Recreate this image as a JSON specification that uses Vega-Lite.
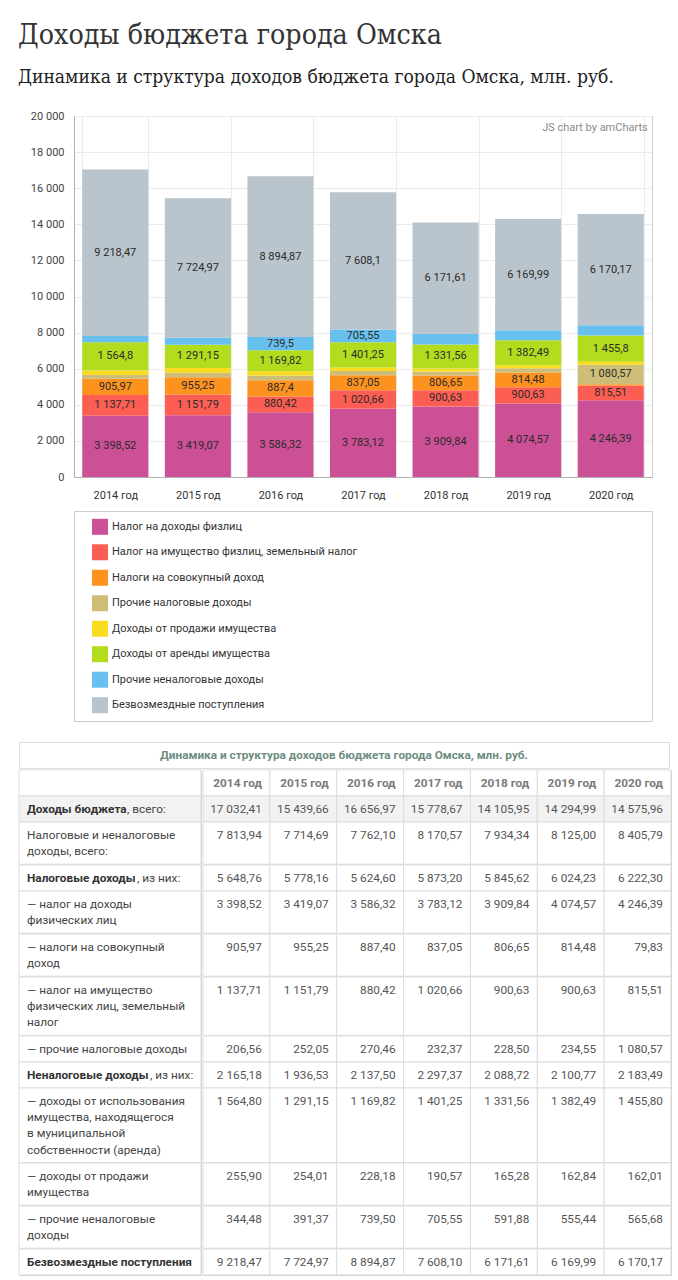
{
  "$schema": "https://vega.github.io/schema/vega-lite/v6.json",
  "padding": {"left": 18, "top": 21, "right": 10, "bottom": 2},
  "background": "#ffffff",
  "title": {
    "text": "Доходы бюджета города Омска",
    "subtitle": "Динамика и структура доходов бюджета города Омска, млн. руб.",
    "anchor": "start",
    "frame": "bounds",
    "font": "DejaVu Serif Condensed, DejaVu Serif, serif",
    "fontSize": 28.3,
    "fontWeight": "normal",
    "color": "#333333",
    "subtitleFont": "DejaVu Serif Condensed, DejaVu Serif, serif",
    "subtitleFontSize": 19.1,
    "subtitleColor": "#222222",
    "subtitlePadding": 18,
    "offset": 21
  },
  "datasets": {
    "cats": [
      {"k": 1, "cat": "Налог на доходы физлиц"},
      {"k": 2, "cat": "Налог на имущество физлиц, земельный налог"},
      {"k": 3, "cat": "Налоги на совокупный доход"},
      {"k": 4, "cat": "Прочие налоговые доходы"},
      {"k": 5, "cat": "Доходы от продажи имущества"},
      {"k": 6, "cat": "Доходы от аренды имущества"},
      {"k": 7, "cat": "Прочие неналоговые доходы"},
      {"k": 8, "cat": "Безвозмездные поступления"}
    ],
    "bars": [
      {"god": "2014 год", "k": 1, "v": 3398.52}, {"god": "2014 год", "k": 2, "v": 1137.71}, {"god": "2014 год", "k": 3, "v": 905.97}, {"god": "2014 год", "k": 4, "v": 206.56},
      {"god": "2014 год", "k": 5, "v": 255.90}, {"god": "2014 год", "k": 6, "v": 1564.80}, {"god": "2014 год", "k": 7, "v": 344.48}, {"god": "2014 год", "k": 8, "v": 9218.47},
      {"god": "2015 год", "k": 1, "v": 3419.07}, {"god": "2015 год", "k": 2, "v": 1151.79}, {"god": "2015 год", "k": 3, "v": 955.25}, {"god": "2015 год", "k": 4, "v": 252.05},
      {"god": "2015 год", "k": 5, "v": 254.01}, {"god": "2015 год", "k": 6, "v": 1291.15}, {"god": "2015 год", "k": 7, "v": 391.37}, {"god": "2015 год", "k": 8, "v": 7724.97},
      {"god": "2016 год", "k": 1, "v": 3586.32}, {"god": "2016 год", "k": 2, "v": 880.42}, {"god": "2016 год", "k": 3, "v": 887.40}, {"god": "2016 год", "k": 4, "v": 270.46},
      {"god": "2016 год", "k": 5, "v": 228.18}, {"god": "2016 год", "k": 6, "v": 1169.82}, {"god": "2016 год", "k": 7, "v": 739.50}, {"god": "2016 год", "k": 8, "v": 8894.87},
      {"god": "2017 год", "k": 1, "v": 3783.12}, {"god": "2017 год", "k": 2, "v": 1020.66}, {"god": "2017 год", "k": 3, "v": 837.05}, {"god": "2017 год", "k": 4, "v": 232.37},
      {"god": "2017 год", "k": 5, "v": 190.57}, {"god": "2017 год", "k": 6, "v": 1401.25}, {"god": "2017 год", "k": 7, "v": 705.55}, {"god": "2017 год", "k": 8, "v": 7608.10},
      {"god": "2018 год", "k": 1, "v": 3909.84}, {"god": "2018 год", "k": 2, "v": 900.63}, {"god": "2018 год", "k": 3, "v": 806.65}, {"god": "2018 год", "k": 4, "v": 228.50},
      {"god": "2018 год", "k": 5, "v": 165.28}, {"god": "2018 год", "k": 6, "v": 1331.56}, {"god": "2018 год", "k": 7, "v": 591.88}, {"god": "2018 год", "k": 8, "v": 6171.61},
      {"god": "2019 год", "k": 1, "v": 4074.57}, {"god": "2019 год", "k": 2, "v": 900.63}, {"god": "2019 год", "k": 3, "v": 814.48}, {"god": "2019 год", "k": 4, "v": 234.55},
      {"god": "2019 год", "k": 5, "v": 162.84}, {"god": "2019 год", "k": 6, "v": 1382.49}, {"god": "2019 год", "k": 7, "v": 555.44}, {"god": "2019 год", "k": 8, "v": 6169.99},
      {"god": "2020 год", "k": 1, "v": 4246.39}, {"god": "2020 год", "k": 2, "v": 815.51}, {"god": "2020 год", "k": 3, "v": 79.83}, {"god": "2020 год", "k": 4, "v": 1080.57},
      {"god": "2020 год", "k": 5, "v": 162.01}, {"god": "2020 год", "k": 6, "v": 1455.80}, {"god": "2020 год", "k": 7, "v": 565.68}, {"god": "2020 год", "k": 8, "v": 6170.17}
    ],
    "wm": [{"t": "JS chart by amCharts"}],
    "cap": [{"t": "Динамика и структура доходов бюджета города Омска, млн. руб."}],
    "tbl": [
      {"r": 0, "l": 1, "t": ""},
      {"r": 1, "l": 1, "b": "Доходы бюджета", "t": ", всего:", "2014 год": 17032.41, "2015 год": 15439.66, "2016 год": 16656.97, "2017 год": 15778.67, "2018 год": 14105.95, "2019 год": 14294.99, "2020 год": 14575.96},
      {"r": 2, "l": 1, "t": "Налоговые и неналоговые", "2014 год": 7813.94, "2015 год": 7714.69, "2016 год": 7762.10, "2017 год": 8170.57, "2018 год": 7934.34, "2019 год": 8125.00, "2020 год": 8405.79},
      {"r": 2, "l": 2, "t": "доходы, всего:"},
      {"r": 3, "l": 1, "b": "Налоговые доходы", "t": ", из них:", "2014 год": 5648.76, "2015 год": 5778.16, "2016 год": 5624.60, "2017 год": 5873.20, "2018 год": 5845.62, "2019 год": 6024.23, "2020 год": 6222.30},
      {"r": 4, "l": 1, "t": "— налог на доходы", "2014 год": 3398.52, "2015 год": 3419.07, "2016 год": 3586.32, "2017 год": 3783.12, "2018 год": 3909.84, "2019 год": 4074.57, "2020 год": 4246.39},
      {"r": 4, "l": 2, "t": "физических лиц"},
      {"r": 5, "l": 1, "t": "— налоги на совокупный", "2014 год": 905.97, "2015 год": 955.25, "2016 год": 887.40, "2017 год": 837.05, "2018 год": 806.65, "2019 год": 814.48, "2020 год": 79.83},
      {"r": 5, "l": 2, "t": "доход"},
      {"r": 6, "l": 1, "t": "— налог на имущество", "2014 год": 1137.71, "2015 год": 1151.79, "2016 год": 880.42, "2017 год": 1020.66, "2018 год": 900.63, "2019 год": 900.63, "2020 год": 815.51},
      {"r": 6, "l": 2, "t": "физических лиц, земельный"},
      {"r": 6, "l": 3, "t": "налог"},
      {"r": 7, "l": 1, "t": "— прочие налоговые доходы", "2014 год": 206.56, "2015 год": 252.05, "2016 год": 270.46, "2017 год": 232.37, "2018 год": 228.50, "2019 год": 234.55, "2020 год": 1080.57},
      {"r": 8, "l": 1, "b": "Неналоговые доходы", "t": ", из них:", "2014 год": 2165.18, "2015 год": 1936.53, "2016 год": 2137.50, "2017 год": 2297.37, "2018 год": 2088.72, "2019 год": 2100.77, "2020 год": 2183.49},
      {"r": 9, "l": 1, "t": "— доходы от использования", "2014 год": 1564.80, "2015 год": 1291.15, "2016 год": 1169.82, "2017 год": 1401.25, "2018 год": 1331.56, "2019 год": 1382.49, "2020 год": 1455.80},
      {"r": 9, "l": 2, "t": "имущества, находящегося"},
      {"r": 9, "l": 3, "t": "в муниципальной"},
      {"r": 9, "l": 4, "t": "собственности (аренда)"},
      {"r": 10, "l": 1, "t": "— доходы от продажи", "2014 год": 255.90, "2015 год": 254.01, "2016 год": 228.18, "2017 год": 190.57, "2018 год": 165.28, "2019 год": 162.84, "2020 год": 162.01},
      {"r": 10, "l": 2, "t": "имущества"},
      {"r": 11, "l": 1, "t": "— прочие неналоговые", "2014 год": 344.48, "2015 год": 391.37, "2016 год": 739.50, "2017 год": 705.55, "2018 год": 591.88, "2019 год": 555.44, "2020 год": 565.68},
      {"r": 11, "l": 2, "t": "доходы"},
      {"r": 12, "l": 1, "b": "Безвозмездные поступления", "2014 год": 9218.47, "2015 год": 7724.97, "2016 год": 8894.87, "2017 год": 7608.10, "2018 год": 6171.61, "2019 год": 6169.99, "2020 год": 6170.17}
    ]
  },
  "spacing": 19,
  "vconcat": [
    {
      "spacing": 0,
      "hconcat": [
        {
          "width": 1,
          "height": 1,
          "data": {"values": []},
          "view": {"stroke": null, "fill": "#ffffff"},
          "mark": {"type": "rect", "opacity": 0},
          "encoding": {}
        },
        {
          "spacing": 9,
          "vconcat": [
            {
              "width": 578,
              "height": 361,
              "layer": [
                {
                  "data": {"name": "bars"},
                  "transform": [{"lookup": "k", "from": {"data": {"name": "cats"}, "key": "k", "fields": ["cat"]}}],
                  "mark": {"type": "bar"},
                  "encoding": {
                    "x": {"field": "god", "type": "nominal", "scale": {"paddingInner": 0.2, "paddingOuter": 0.1},
                          "axis": {"title": null, "labelAngle": 0, "grid": true, "tickBand": "extent", "ticks": false, "gridColor": "#ebebeb", "domainColor": "#b0b0b0", "labelPadding": 12, "labelFontSize": 11, "labelColor": "#333333"}},
                    "y": {"field": "v", "type": "quantitative", "stack": "zero", "scale": {"domain": [0, 20000], "nice": false},
                          "axis": {"title": null, "values": [0, 2000, 4000, 6000, 8000, 10000, 12000, 14000, 16000, 18000, 20000], "labelOverlap": false, "labelSeparation": 0, "format": ",d", "grid": true, "gridColor": "#ebebeb", "ticks": false, "domainColor": "#b0b0b0", "labelPadding": 10, "labelFontSize": 11, "labelColor": "#444444", "minExtent": 53}},
                    "color": {"field": "cat", "type": "nominal", "legend": null,
                              "scale": {"domain": ["Налог на доходы физлиц", "Налог на имущество физлиц, земельный налог", "Налоги на совокупный доход", "Прочие налоговые доходы", "Доходы от продажи имущества", "Доходы от аренды имущества", "Прочие неналоговые доходы", "Безвозмездные поступления"],
                                        "range": ["#cc5096", "#fd5e54", "#fe921f", "#cdbd78", "#f9dc22", "#b4dc1e", "#67c0ee", "#b9c4cc"]}},
                    "order": {"field": "k", "type": "quantitative", "sort": "ascending"}
                  }
                },
                {
                  "data": {"name": "bars"},
                  "transform": [
                    {"stack": "v", "groupby": ["god"], "sort": [{"field": "k", "order": "ascending"}], "as": ["v0", "v1"]},
                    {"filter": "datum.v >= 700"},
                    {"fold": ["v0", "v1"], "as": ["edge", "pos"]}
                  ],
                  "mark": {"type": "text", "fontSize": 11, "color": "#2b2b2b", "baseline": "middle"},
                  "encoding": {
                    "x": {"field": "god", "type": "nominal"},
                    "y": {"aggregate": "mean", "field": "pos", "type": "quantitative", "stack": null,
                          "axis": {"title": null, "values": [0, 2000, 4000, 6000, 8000, 10000, 12000, 14000, 16000, 18000, 20000], "labelOverlap": false, "labelSeparation": 0, "format": ",d", "grid": true, "gridColor": "#ebebeb", "ticks": false, "domainColor": "#b0b0b0", "labelPadding": 10, "labelFontSize": 11, "labelColor": "#444444", "minExtent": 53}},
                    "detail": {"field": "k", "type": "nominal"},
                    "text": {"field": "v", "type": "quantitative", "format": ",.2~f"}
                  }
                },
                {
                  "data": {"name": "wm"},
                  "mark": {"type": "text", "align": "right", "baseline": "middle", "dx": 4, "dy": 12, "fontSize": 11, "color": "#8a8a8a"},
                  "encoding": {
                    "x": {"datum": "2020 год", "bandPosition": 1},
                    "y": {"datum": 20000,
                          "axis": {"title": null, "values": [0, 2000, 4000, 6000, 8000, 10000, 12000, 14000, 16000, 18000, 20000], "labelOverlap": false, "labelSeparation": 0, "format": ",d", "grid": true, "gridColor": "#ebebeb", "ticks": false, "domainColor": "#b0b0b0", "labelPadding": 10, "labelFontSize": 11, "labelColor": "#444444", "minExtent": 53}},
                    "text": {"field": "t"}
                  }
                }
              ]
            },
            {
              "width": 578,
              "height": 210,
              "data": {"name": "cats"},
              "layer": [
                {
                  "mark": {"type": "square", "size": 256, "opacity": 1, "filled": true, "xOffset": 26},
                  "encoding": {
                    "x": {"datum": 0, "type": "quantitative", "scale": {"domain": [0, 1]}, "axis": null},
                    "y": {"field": "cat", "type": "nominal", "sort": null, "scale": {"type": "point", "padding": 0.62},
                          "axis": {"labels": false, "ticks": false, "domain": false, "grid": false, "title": null, "minExtent": 53}},
                    "color": {"field": "cat", "type": "nominal", "legend": null}
                  }
                },
                {
                  "mark": {"type": "text", "align": "left", "baseline": "middle", "dx": 38, "fontSize": 11, "color": "#333333"},
                  "encoding": {
                    "x": {"datum": 0, "type": "quantitative"},
                    "y": {"field": "cat", "type": "nominal", "sort": null},
                    "text": {"field": "cat"}
                  }
                }
              ]
            }
          ]
        }
      ]
    },
    {
      "spacing": 0,
      "vconcat": [
        {
          "width": 650,
          "height": 26,
          "data": {"name": "cap"},
          "view": {"stroke": "#dddddd"},
          "mark": {"type": "text", "fontWeight": "bold", "fontSize": 11.8, "color": "#6e8c80"},
          "encoding": {"text": {"field": "t"}}
        },
        {
          "spacing": 0,
          "hconcat": [
            {
              "data": {"name": "tbl"},
              "facet": {"row": {"field": "r", "type": "ordinal", "header": null}},
              "spacing": 0,
              "bounds": "flush",
              "resolve": {"scale": {"y": "independent"}},
              "spec": {
                "width": 182,
                "height": {"step": 16.2},
                "layer": [
                  {
                    "transform": [{"filter": "datum.l == 1"}],
                    "mark": {"type": "rect", "stroke": "#dddddd", "strokeWidth": 1},
                    "encoding": {"fill": {"condition": {"test": "datum.r == 1", "value": "#f2f2f2"}, "value": "#ffffff"}}
                  },
                  {
                    "transform": [{"filter": "!datum.b"}],
                    "mark": {"type": "text", "align": "left", "baseline": "middle", "dx": 8, "fontSize": 11.8, "color": "#444444"},
                    "encoding": {
                      "x": {"datum": 0, "type": "quantitative", "scale": {"domain": [0, 1]}, "axis": null},
                      "y": {"field": "l", "type": "ordinal", "scale": {"type": "point", "padding": 0.8022}, "axis": null},
                      "text": {"field": "t"}
                    }
                  },
                  {
                    "transform": [{"filter": "datum.b"}],
                    "mark": {"type": "text", "align": "left", "baseline": "middle", "dx": 8, "fontSize": 11.8, "fontWeight": "bold", "color": "#333333"},
                    "encoding": {
                      "x": {"datum": 0, "type": "quantitative"},
                      "y": {"field": "l", "type": "ordinal"},
                      "text": {"field": "b"}
                    }
                  },
                  {
                    "transform": [{"filter": "datum.b && datum.r == 1"}],
                    "mark": {"type": "text", "align": "left", "baseline": "middle", "dx": 108, "fontSize": 11.8, "color": "#444444"},
                    "encoding": {"x": {"datum": 0, "type": "quantitative"}, "y": {"field": "l", "type": "ordinal"}, "text": {"field": "t"}}
                  },
                  {
                    "transform": [{"filter": "datum.b && datum.r == 3"}],
                    "mark": {"type": "text", "align": "left", "baseline": "middle", "dx": 118, "fontSize": 11.8, "color": "#444444"},
                    "encoding": {"x": {"datum": 0, "type": "quantitative"}, "y": {"field": "l", "type": "ordinal"}, "text": {"field": "t"}}
                  },
                  {
                    "transform": [{"filter": "datum.b && datum.r == 8"}],
                    "mark": {"type": "text", "align": "left", "baseline": "middle", "dx": 131, "fontSize": 11.8, "color": "#444444"},
                    "encoding": {"x": {"datum": 0, "type": "quantitative"}, "y": {"field": "l", "type": "ordinal"}, "text": {"field": "t"}}
                  }
                ]
              }
            },
            {
              "data": {"name": "tbl"},
              "facet": {"row": {"field": "r", "type": "ordinal", "header": null}},
              "spacing": 0,
              "bounds": "flush",
              "resolve": {"scale": {"y": "independent"}},
              "spec": {
                "width": 468,
                "height": {"step": 16.2},
                "layer": [
                  {
                    "transform": [{"filter": "datum.l == 1"}, {"fold": ["2014 год", "2015 год", "2016 год", "2017 год", "2018 год", "2019 год", "2020 год"], "as": ["g", "v"]}],
                    "mark": {"type": "rect", "stroke": "#dddddd", "strokeWidth": 1},
                    "encoding": {
                      "x": {"field": "g", "type": "nominal", "scale": {"paddingInner": 0, "paddingOuter": 0}, "axis": null},
                      "fill": {"condition": {"test": "datum.r == 1", "value": "#f2f2f2"}, "value": "#ffffff"}
                    }
                  },
                  {
                    "transform": [{"filter": "datum.r == 0"}, {"fold": ["2014 год", "2015 год", "2016 год", "2017 год", "2018 год", "2019 год", "2020 год"], "as": ["g", "v"]}],
                    "mark": {"type": "text", "align": "right", "baseline": "middle", "dx": -8, "fontSize": 11.8, "fontWeight": "bold", "color": "#7a7a7a"},
                    "encoding": {
                      "x": {"field": "g", "type": "nominal", "bandPosition": 1},
                      "y": {"field": "l", "type": "ordinal", "scale": {"type": "point", "padding": 0.8022}, "axis": null},
                      "text": {"field": "g"}
                    }
                  },
                  {
                    "transform": [{"filter": "datum.l == 1 && datum.r > 0"}, {"fold": ["2014 год", "2015 год", "2016 год", "2017 год", "2018 год", "2019 год", "2020 год"], "as": ["g", "v"]}],
                    "mark": {"type": "text", "align": "right", "baseline": "middle", "dx": -8, "fontSize": 11.8, "color": "#555555"},
                    "encoding": {
                      "x": {"field": "g", "type": "nominal", "bandPosition": 1},
                      "y": {"field": "l", "type": "ordinal"},
                      "text": {"field": "v", "type": "quantitative", "format": ",.2f"}
                    }
                  },
                  {
                    "mark": {"type": "text", "text": ""},
                    "encoding": {"y": {"field": "l", "type": "ordinal"}}
                  }
                ]
              }
            }
          ]
        }
      ]
    }
  ],
  "config": {
    "font": "Roboto",
    "locale": {"number": {"decimal": ",", "thousands": " ", "grouping": [3], "currency": ["", " руб."]}},
    "view": {"stroke": "#cccccc"}
  }
}
